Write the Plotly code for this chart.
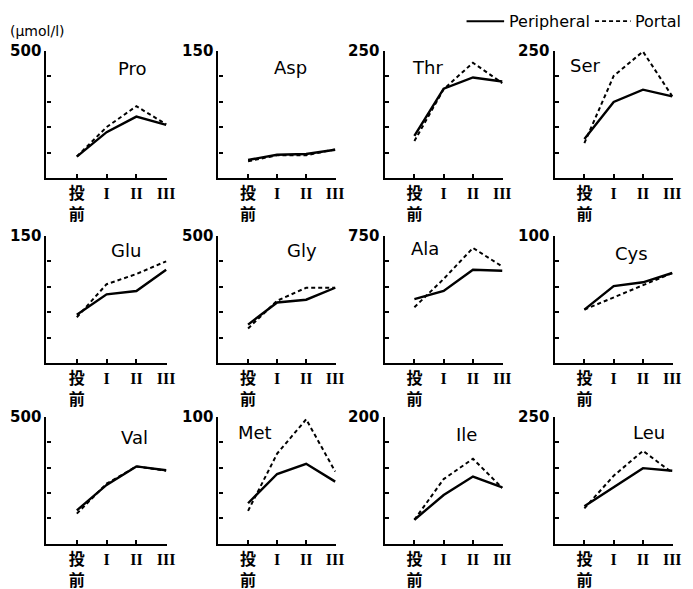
import plotly.graph_objects as go

categories = ["投<br>前", "I", "II", "III"]
amino_acids = ["Pro", "Asp", "Thr", "Ser", "Glu", "Gly", "Ala", "Cys", "Val", "Met", "Ile", "Leu"]
y_max = [500, 150, 250, 250, 150, 500, 750, 100, 500, 100, 200, 250]
peripheral = [
    [85, 181, 242, 210],
    [21.5, 27.7, 28.5, 33.5],
    [83, 176, 198, 190],
    [77, 150, 174, 161],
    [57, 81, 85, 110],
    [151, 238, 249, 296],
    [377, 425, 550, 544],
    [42, 60.5, 63.5, 70.8],
    [132, 232, 305, 290],
    [32, 55, 63, 49],
    [38, 77, 106, 89],
    [74, 112, 149, 144],
]
portal = [
    [85, 201, 283, 212],
    [20, 27, 27, 34],
    [73, 175, 227, 187],
    [69, 201, 249, 161],
    [54, 93, 105, 120],
    [136, 245, 296, 296],
    [329, 496, 679, 569],
    [42, 51.5, 61.5, 70.8],
    [119, 237, 305, 288],
    [26, 71, 98, 57],
    [38, 102, 134, 88],
    [70, 134, 183, 140],
]

# layout geometry (pixels)
W, H = 693, 589
col_left = [47, 221, 389, 561]
col_right = [169, 340, 509, 681]
row_top = [43, 232, 417]
row_bot = [173, 362, 547]
title_pos = [(0.71, 0.86), (0.61, 0.87), (0.36, 0.87), (0.26, 0.89),
             (0.66, 0.885), (0.71, 0.885), (0.34, 0.90), (0.65, 0.86),
             (0.73, 0.84), (0.31, 0.88), (0.69, 0.86), (0.80, 0.88)]

xpos = list(range(len(categories)))
fig = go.Figure()
layout = dict(
    width=W, height=H, margin=dict(l=0, r=0, t=0, b=0),
    paper_bgcolor="white", plot_bgcolor="white", showlegend=False,
    annotations=[], shapes=[],
)

for i, name in enumerate(amino_acids):
    r, c = divmod(i, 4)
    n = "" if i == 0 else str(i + 1)
    xa, ya = "x" + n, "y" + n
    fig.add_trace(go.Scatter(x=xpos, y=portal[i], mode="lines", xaxis=xa, yaxis=ya,
                             line=dict(color="black", width=2, dash="4px,3px")))
    fig.add_trace(go.Scatter(x=xpos, y=peripheral[i], mode="lines", xaxis=xa, yaxis=ya,
                             line=dict(color="black", width=2.4)))
    m = y_max[i]
    layout["xaxis" + n] = dict(
        domain=[col_left[c] / W, col_right[c] / W], anchor=ya,
        range=[-1.02, 3.03], tickvals=xpos, ticktext=categories,
        ticks="inside", ticklen=4, tickwidth=1.5, tickcolor="black",
        showline=True, linecolor="black", linewidth=2.2, showgrid=False, zeroline=False,
        tickfont=dict(family="Liberation Serif, Noto Sans CJK JP", size=16, color="black", weight="bold"),
        fixedrange=True,
    )
    layout["yaxis" + n] = dict(
        domain=[1 - row_bot[r] / H, 1 - row_top[r] / H], anchor=xa,
        range=[0, m], tickvals=[m * k / 5 for k in range(6)],
        ticktext=["", "", "", "", "", str(m)],
        ticks="inside", ticklen=4, tickwidth=1.5, tickcolor="black",
        showline=True, linecolor="black", linewidth=2.2, showgrid=False, zeroline=False,
        tickfont=dict(family="DejaVu Sans", size=15, color="black", weight="bold"),
        fixedrange=True,
    )
    tx, ty = title_pos[i]
    layout["annotations"].append(dict(
        text=name, x=tx, y=ty, xref=xa + " domain", yref=ya + " domain",
        showarrow=False, xanchor="center", yanchor="middle",
        font=dict(family="DejaVu Sans", size=18, color="black"),
    ))

# unit label
layout["annotations"].append(dict(
    text="(μmol/l)", x=8 / W, y=1 - 23 / H, xref="paper", yref="paper",
    showarrow=False, xanchor="left", yanchor="middle",
    font=dict(family="DejaVu Sans", size=14, color="black"),
))
# legend
ly = 1 - 12.5 / H
layout["shapes"].append(dict(type="line", xref="paper", yref="paper",
                             x0=472 / W, x1=510 / W, y0=ly, y1=ly,
                             line=dict(color="black", width=2)))
layout["shapes"].append(dict(type="line", xref="paper", yref="paper",
                             x0=602 / W, x1=638 / W, y0=ly, y1=ly,
                             line=dict(color="black", width=1.8, dash="4px,3px")))
layout["annotations"].append(dict(
    text="Peripheral", x=513 / W, y=ly, xref="paper", yref="paper",
    showarrow=False, xanchor="left", yanchor="middle",
    font=dict(family="DejaVu Sans", size=16, color="black"),
))
layout["annotations"].append(dict(
    text="Portal", x=640 / W, y=ly, xref="paper", yref="paper",
    showarrow=False, xanchor="left", yanchor="middle",
    font=dict(family="DejaVu Sans", size=16, color="black"),
))

fig.update_layout(**layout)
fig.write_html("out.html")
